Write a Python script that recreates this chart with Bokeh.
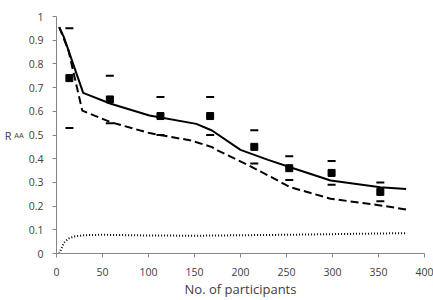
from bokeh.plotting import figure
from bokeh.models import Range1d, FixedTicker, LinearAxis
from bokeh.embed import file_html
from bokeh.resources import INLINE

# Observed points with upper/lower bounds
obs_x = [14, 58, 113, 167, 215, 253, 299, 352]
obs_y = [0.74, 0.65, 0.58, 0.58, 0.45, 0.36, 0.34, 0.26]
obs_hi = [0.95, 0.75, 0.66, 0.66, 0.52, 0.41, 0.39, 0.30]
obs_lo = [0.53, 0.55, 0.50, 0.50, 0.38, 0.31, 0.29, 0.22]

# Solid curve
solid_x = [3, 8, 29, 59, 101, 152, 169, 200, 230, 254, 298, 352, 380]
solid_y = [0.955, 0.913, 0.678, 0.632, 0.582, 0.547, 0.519, 0.437, 0.395, 0.364, 0.308, 0.280, 0.272]

# Dashed curve
dash_x = [3, 13, 28, 59, 101, 146, 169, 175, 210, 254, 298, 352, 380]
dash_y = [0.955, 0.857, 0.603, 0.554, 0.508, 0.477, 0.449, 0.435, 0.37, 0.280, 0.231, 0.203, 0.186]

# Dotted curve
dot_x = [3, 8, 13, 19, 30, 48, 100, 150, 250, 380]
dot_y = [0.0, 0.045, 0.063, 0.072, 0.077, 0.079, 0.076, 0.075, 0.079, 0.086]

x_ticks = [0, 50, 100, 150, 200, 250, 300, 350, 400]
y_ticks = [0, 0.1, 0.2, 0.3, 0.4, 0.5, 0.6, 0.7, 0.8, 0.9, 1.0]

FONT = "Open Sans"
AXIS_COL = "#868686"
TEXT_COL = "#404040"

p = figure(width=433, height=300, output_backend="svg", toolbar_location=None,
           x_range=Range1d(0, 400), y_range=Range1d(0, 1),
           min_border_left=56, min_border_right=9, min_border_top=16, min_border_bottom=47)
p.outline_line_color = None
p.xgrid.visible = False
p.ygrid.visible = False

p.xaxis.ticker = FixedTicker(ticks=x_ticks)
p.yaxis.ticker = FixedTicker(ticks=y_ticks)
p.yaxis.major_label_overrides = {0: "0", 1.0: "1"}
for ax in (p.xaxis, p.yaxis):
    ax.axis_line_color = AXIS_COL
    ax.major_tick_line_color = AXIS_COL
    ax.minor_tick_line_color = None
    ax.major_tick_out = 4
    ax.major_tick_in = 0
    ax.major_label_text_font = FONT
    ax.major_label_text_font_size = "10.5px"
    ax.major_label_text_color = TEXT_COL
p.xaxis.major_label_standoff = 10
p.yaxis.major_label_standoff = 9
p.xaxis.axis_label = "No. of participants"
p.xaxis.axis_label_text_font = FONT
p.xaxis.axis_label_text_font_size = "13px"
p.xaxis.axis_label_text_font_style = "normal"
p.xaxis.axis_label_text_color = TEXT_COL
p.xaxis.axis_label_standoff = 1

# y-axis title "R" with subscript "AA", written as two horizontal axis labels
p.yaxis.axis_label = "AA"
p.yaxis.axis_label_orientation = "horizontal"
p.yaxis.axis_label_text_font = FONT
p.yaxis.axis_label_text_font_size = "7.5px"
p.yaxis.axis_label_text_font_style = "normal"
p.yaxis.axis_label_text_color = TEXT_COL
p.yaxis.axis_label_text_baseline = "top"
p.yaxis.axis_label_standoff = 2

r_axis = LinearAxis(ticker=FixedTicker(ticks=[]), axis_line_color=None,
                    major_tick_line_color=None, minor_tick_line_color=None,
                    major_tick_out=0, major_tick_in=0, minor_tick_out=0, minor_tick_in=0,
                    axis_label="R", axis_label_orientation="horizontal",
                    axis_label_text_font=FONT, axis_label_text_font_size="11px",
                    axis_label_text_font_style="normal", axis_label_text_color=TEXT_COL,
                    axis_label_standoff=0, major_label_standoff=0)
p.add_layout(r_axis, "left")

p.line(solid_x, solid_y, line_color="black", line_width=2)
p.line(dash_x, dash_y, line_color="black", line_width=2, line_dash="8 4")
p.line(dot_x, dot_y, line_color="black", line_width=2, line_dash="1 2")

p.dash(obs_x, obs_hi, size=8, line_color="black", line_width=2)
p.dash(obs_x, obs_lo, size=8, line_color="black", line_width=2)
p.scatter(obs_x, obs_y, marker="square", size=7, color="black")

open("out.html", "w").write(file_html(p, INLINE))
